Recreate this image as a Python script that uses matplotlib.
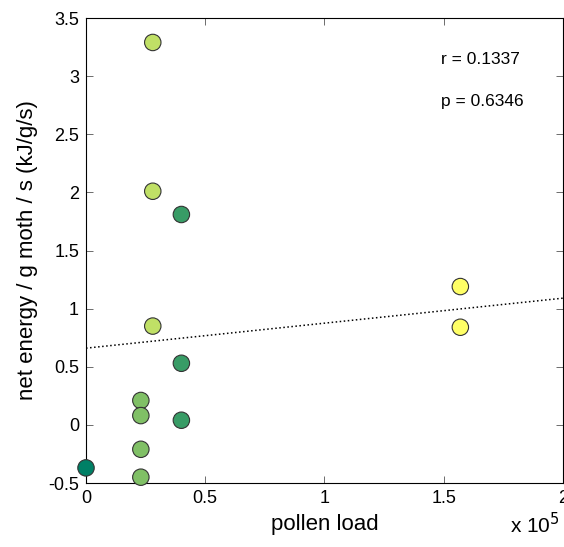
#!/usr/bin/env python3
import numpy as np
import matplotlib
matplotlib.use('Agg')
import matplotlib.pyplot as plt

# pollen load (raw counts) vs. net energy
pollen = [0, 2.3e4, 2.3e4, 2.3e4, 2.3e4, 2.8e4, 2.8e4, 2.8e4,
          4.0e4, 4.0e4, 4.0e4, 1.57e5, 1.57e5]
energy = [-0.37, 0.21, 0.08, -0.21, -0.45, 3.29, 2.01, 0.85,
          1.81, 0.53, 0.04, 1.19, 0.84]
shade = [0.0, 0.5, 0.5, 0.5, 0.5, 0.75, 0.75, 0.75,
         0.22, 0.22, 0.22, 1.0, 1.0]

trend_x = [0, 2e5]
trend_y = [0.66, 1.09]

r_text = 'r = 0.1337'
p_text = 'p = 0.6346'

plt.rcParams['font.family'] = ['Liberation Sans', 'DejaVu Sans']

fig = plt.figure(figsize=(5.64, 5.47), dpi=100)
ax = fig.add_axes([0.1525, 0.117, 0.8455, 0.850])

ax.plot(trend_x, trend_y, color='black', linestyle=':', linewidth=1.1, zorder=1)
ax.scatter(pollen, energy, c=shade, cmap='summer', vmin=0, vmax=1, s=140,
           edgecolors='#333333', linewidths=0.8, zorder=3, clip_on=False)

ax.set_xlim(0, 2e5)
ax.set_ylim(-0.5, 3.5)
ax.set_xticks([0, 0.5e5, 1e5, 1.5e5, 2e5])
ax.set_xticklabels(['0', '0.5', '1', '1.5', '2'])
ax.set_yticks(np.arange(-0.5, 3.51, 0.5))
ax.set_yticklabels(['-0.5', '0', '0.5', '1', '1.5', '2', '2.5', '3', '3.5'])
ax.tick_params(direction='in', length=5, width=0.6, labelsize=13,
               top=True, right=True, pad=5, color='#555555')
for sp in ax.spines.values():
  sp.set_linewidth(0.8)

ax.set_xlabel('pollen load', fontsize=16, labelpad=5)
ax.set_ylabel('net energy / g moth / s (kJ/g/s)', fontsize=16, labelpad=7)

ax.text(0.745, 0.91, r_text, transform=ax.transAxes, fontsize=12.5, va='center')
ax.text(0.745, 0.82, p_text, transform=ax.transAxes, fontsize=12.5, va='center')
fig.text(0.993, 0.026, r'x 10$^5$', fontsize=15, va='baseline', ha='right')

plt.savefig('out.png', dpi=100)
plt.close()
